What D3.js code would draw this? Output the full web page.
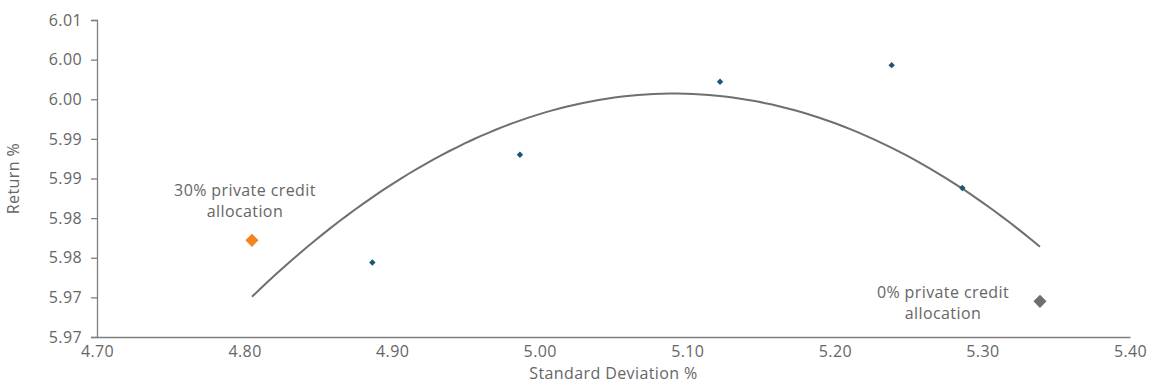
<!DOCTYPE html>
<html>
<head>
<meta charset="utf-8">
<script src="https://cdn.jsdelivr.net/npm/d3@7"></script>
<style>
  body { margin: 0; background: #fff; }
  text { font-family: "Open Sans", sans-serif; fill: #666; letter-spacing: 0.4px; }
</style>
</head>
<body>
<div id="chart"></div>
<script>
// Portfolio points (std dev %, return %)
const stdDev = [4.805, 4.8866, 4.9866, 5.1222, 5.2385, 5.2864, 5.339];
const returns = [5.9772, 5.9744, 5.9880, 5.9972, 5.9993, 5.9838, 5.9695];
const pointKind = ["high", "mid", "mid", "mid", "mid", "mid", "low"];

const xTicks = [4.70, 4.80, 4.90, 5.00, 5.10, 5.20, 5.30, 5.40];
const yTicks = [5.965, 5.970, 5.975, 5.980, 5.985, 5.990, 5.995, 6.000, 6.005];
const yTickLabels = ["5.97", "5.97", "5.98", "5.98", "5.99", "5.99", "6.00", "6.00", "6.01"];

const labels = [
  { i: 0, lines: ["30% private credit", "allocation"] },
  { i: 6, lines: ["0% private credit", "allocation"] }
];

const width = 1152;
const height = 385;
const margin = { top: 20, right: 22, bottom: 48, left: 97 };

const svg = d3.select("#chart")
  .append("svg")
  .attr("width", width)
  .attr("height", height);

const xScale = d3.scaleLinear()
  .domain([4.70, 5.40])
  .range([margin.left, width - margin.right]);

const yScale = d3.scaleLinear()
  .domain([5.965, 6.005])
  .range([height - margin.bottom, margin.top]);

// x axis
const xAxis = svg.append("g")
  .attr("transform", `translate(0, ${height - margin.bottom})`)
  .call(d3.axisBottom(xScale).tickValues(xTicks).tickSize(0).tickPadding(9).tickFormat(d3.format(".2f")));

// y axis
const yAxis = svg.append("g")
  .attr("transform", `translate(${margin.left}, 0)`)
  .call(d3.axisLeft(yScale).tickValues(yTicks).tickSize(6).tickPadding(9)
    .tickFormat((d, i) => yTickLabels[i]));

[xAxis, yAxis].forEach(g => {
  g.select(".domain").attr("stroke", "#7f7f7f").attr("stroke-width", 1.3);
  g.selectAll(".tick line").attr("stroke", "#7f7f7f").attr("stroke-width", 1.3);
  g.selectAll(".tick text").style("font-size", "16px").attr("fill", "#666");
});

// axis titles
svg.append("text")
  .attr("x", (margin.left + width - margin.right) / 2)
  .attr("y", 379)
  .attr("text-anchor", "middle")
  .style("font-size", "16px")
  .text("Standard Deviation %");

svg.append("text")
  .attr("transform", `translate(19, ${(margin.top + height - margin.bottom) / 2}) rotate(-90)`)
  .attr("text-anchor", "middle")
  .style("font-size", "16px")
  .text("Return %");

// 2nd order polynomial trendline (least squares over the points)
function polyFit(xs, ys) {
  const x0 = d3.mean(xs);
  const u = xs.map(x => x - x0);
  const S = k => d3.sum(u, v => Math.pow(v, k));
  const T = k => d3.sum(u, (v, i) => Math.pow(v, k) * ys[i]);
  const A = [[S(0), S(1), S(2)], [S(1), S(2), S(3)], [S(2), S(3), S(4)]];
  const b = [T(0), T(1), T(2)];
  // gaussian elimination
  for (let c = 0; c < 3; c++) {
    for (let r = c + 1; r < 3; r++) {
      const f = A[r][c] / A[c][c];
      for (let k = c; k < 3; k++) A[r][k] -= f * A[c][k];
      b[r] -= f * b[c];
    }
  }
  const coef = [0, 0, 0];
  for (let r = 2; r >= 0; r--) {
    let s = b[r];
    for (let k = r + 1; k < 3; k++) s -= A[r][k] * coef[k];
    coef[r] = s / A[r][r];
  }
  return x => { const v = x - x0; return coef[0] + coef[1] * v + coef[2] * v * v; };
}

const fit = polyFit(stdDev, returns);
const xMin = d3.min(stdDev), xMax = d3.max(stdDev);
const trend = d3.range(0, 101).map(k => {
  const x = xMin + (xMax - xMin) * k / 100;
  return [x, fit(x)];
});

svg.append("path")
  .datum(trend)
  .attr("fill", "none")
  .attr("stroke", "#6f6f6f")
  .attr("stroke-width", 2)
  .attr("d", d3.line().x(d => xScale(d[0])).y(d => yScale(d[1])));

// points
const colors = { high: "#f28521", mid: "#1b5676", low: "#6f6f6f" };
const sizes = { high: 110, mid: 26, low: 110 };

svg.selectAll(".pt")
  .data(stdDev.map((x, i) => ({ x, y: returns[i], kind: pointKind[i] })))
  .enter()
  .append("path")
  .attr("class", "pt")
  .attr("transform", d => `translate(${xScale(d.x)}, ${yScale(d.y)})`)
  .attr("d", d => d3.symbol(d3.symbolDiamond2, sizes[d.kind])())
  .attr("fill", d => colors[d.kind]);

// annotations
const ann = svg.selectAll(".ann")
  .data(labels)
  .enter()
  .append("text")
  .attr("class", "ann")
  .attr("text-anchor", "middle")
  .style("font-size", "16px");

ann.each(function(d) {
  const t = d3.select(this);
  const cx = d.i === 0 ? xScale(stdDev[d.i]) - 7 : xScale(stdDev[d.i]) - 97;
  const y0 = d.i === 0 ? yScale(returns[d.i]) - 44 : yScale(returns[d.i]) - 3;
  d.lines.forEach((line, k) => {
    t.append("tspan").attr("x", cx).attr("y", y0 + k * 20.5).text(line);
  });
});
</script>
</body>
</html>
